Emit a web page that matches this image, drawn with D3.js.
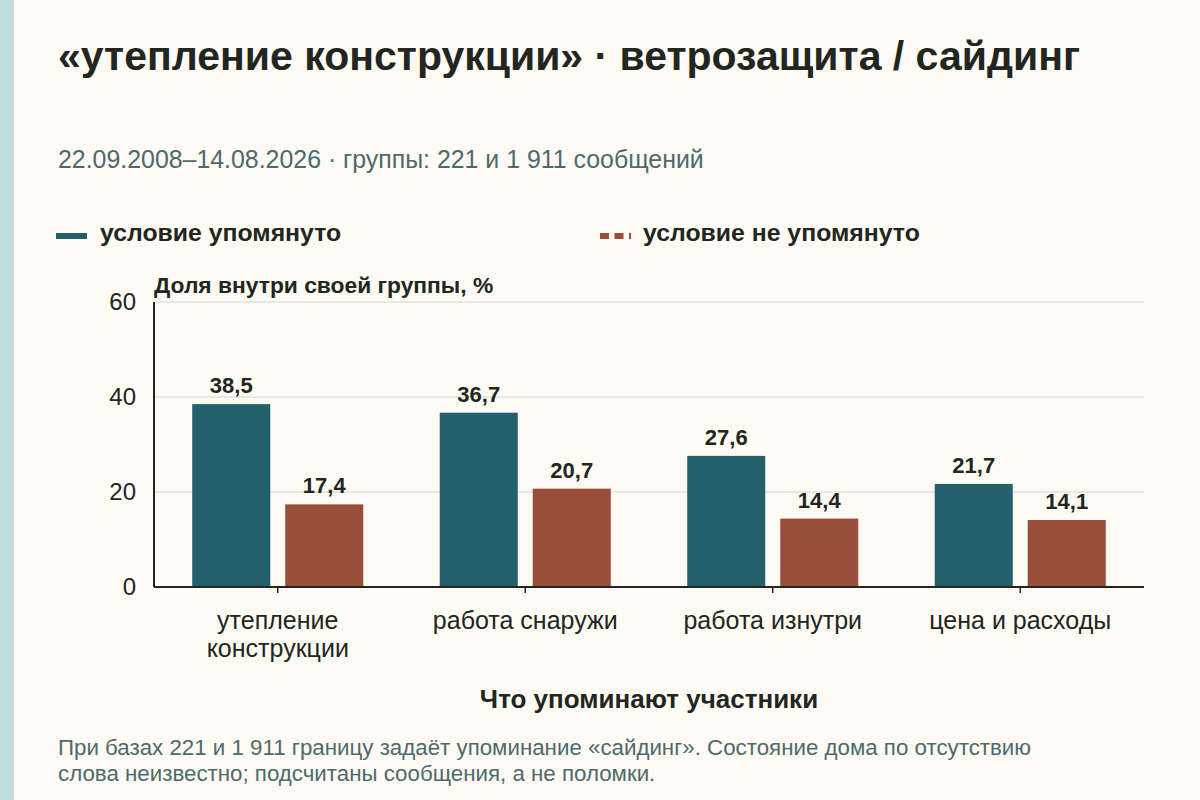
<!DOCTYPE html>
<html>
<head>
<meta charset="utf-8">
<script src="https://cdn.jsdelivr.net/npm/d3@7"></script>
<style>
  body { margin: 0; background: #fdfbf4; }
  svg { display: block; font-family: "Liberation Sans", Arial, sans-serif; }
</style>
</head>
<body>
<div id="chart"></div>
<script>
// data
const categories = [["утепление", "конструкции"], ["работа снаружи"], ["работа изнутри"], ["цена и расходы"]];
const seriesNames = ["условие упомянуто", "условие не упомянуто"];
const mentioned = [38.5, 36.7, 27.6, 21.7];
const notMentioned = [17.4, 20.7, 14.4, 14.1];
const yTicks = [0, 20, 40, 60];
const colors = ["#23606b", "#994e3c"];

const width = 1200, height = 800;
const margin = {top: 302, right: 56, bottom: 213, left: 154};

const svg = d3.select("#chart").append("svg")
    .attr("width", width)
    .attr("height", height);

svg.append("rect").attr("width", width).attr("height", height).attr("fill", "#fdfbf4");
// left accent strip
svg.append("rect").attr("x", 0).attr("y", 0).attr("width", 14).attr("height", height).attr("fill", "#c0dde0");

// title + subtitle
svg.append("text")
    .attr("x", 58).attr("y", 70)
    .attr("font-size", 41).attr("font-weight", "bold").attr("fill", "#222520")
    .text("«утепление конструкции» · ветрозащита / сайдинг");

svg.append("text")
    .attr("x", 58).attr("y", 168)
    .attr("font-size", 24.9).attr("fill", "#4d6a6b")
    .text("22.09.2008–14.08.2026 · группы: 221 и 1 911 сообщений");

// legend
const legendX = [56, 600];
seriesNames.forEach((name, i) => {
    svg.append("line")
        .attr("x1", legendX[i]).attr("x2", legendX[i] + 31)
        .attr("y1", 236).attr("y2", 236)
        .attr("stroke", colors[i]).attr("stroke-width", 6)
        .attr("stroke-dasharray", i === 1 ? "9,5.5" : null);
    svg.append("text")
        .attr("x", legendX[i] + (i === 0 ? 44 : 43)).attr("y", 241)
        .attr("font-size", 24.8).attr("font-weight", "bold").attr("fill", "#222520")
        .text(name);
});

const innerW = width - margin.left - margin.right;
const innerH = height - margin.top - margin.bottom;

const g = svg.append("g").attr("transform", `translate(${margin.left},${margin.top})`);

const keys = categories.map(c => c.join(" "));
const x0 = d3.scaleBand().domain(keys).range([0, innerW]).padding(0);
const x1 = d3.scaleBand().domain(seriesNames).range([0, x0.bandwidth()])
    .paddingInner(0.161).paddingOuter(0.411);
const y = d3.scaleLinear().domain([0, 60]).range([innerH, 0]);

// grid
g.selectAll(".grid").data(yTicks.slice(1)).enter().append("line")
    .attr("x1", 0).attr("x2", innerW)
    .attr("y1", d => y(d)).attr("y2", d => y(d))
    .attr("stroke", "#d6d3cb").attr("stroke-width", 1.2);

// y tick labels
g.selectAll(".ytick").data(yTicks).enter().append("text")
    .attr("x", -18).attr("y", d => y(d) + 8)
    .attr("text-anchor", "end")
    .attr("font-size", 24).attr("fill", "#222520")
    .text(d => d);

svg.append("text")
    .attr("x", margin.left).attr("y", 293)
    .attr("font-size", 22.8).attr("font-weight", "bold").attr("fill", "#222520")
    .text("Доля внутри своей группы, %");

// bars
const rows = keys.map((k, i) => ({key: k, values: [mentioned[i], notMentioned[i]]}));
const fmt = v => d3.format(".1f")(v).replace(".", ",");

const groups = g.selectAll(".grp").data(rows).enter().append("g")
    .attr("transform", d => `translate(${x0(d.key)},0)`);

groups.selectAll("rect")
    .data(d => d.values.map((v, i) => ({name: seriesNames[i], v, i})))
    .enter().append("rect")
    .attr("x", d => x1(d.name))
    .attr("y", d => y(d.v))
    .attr("width", x1.bandwidth())
    .attr("height", d => innerH - y(d.v))
    .attr("fill", d => colors[d.i]);

groups.selectAll(".val")
    .data(d => d.values.map((v, i) => ({name: seriesNames[i], v, i})))
    .enter().append("text")
    .attr("x", d => x1(d.name) + x1.bandwidth() / 2)
    .attr("y", d => y(d.v) - 11)
    .attr("text-anchor", "middle")
    .attr("font-size", 22).attr("font-weight", "bold").attr("fill", "#222520")
    .text(d => fmt(d.v));

// axes lines
g.append("line").attr("x1", 0).attr("x2", 0).attr("y1", 0).attr("y2", innerH)
    .attr("stroke", "#222520").attr("stroke-width", 2);
g.append("line").attr("x1", 0).attr("x2", innerW).attr("y1", innerH).attr("y2", innerH)
    .attr("stroke", "#222520").attr("stroke-width", 2);

// x ticks + labels
const xt = g.selectAll(".xt").data(categories).enter().append("g")
    .attr("transform", (d, i) => `translate(${x0(keys[i]) + x0.bandwidth() / 2},${innerH})`);
xt.append("line").attr("y1", 0).attr("y2", 6).attr("stroke", "#222520").attr("stroke-width", 1.5);
xt.append("text")
    .attr("text-anchor", "middle")
    .attr("font-size", 25).attr("fill", "#222520")
    .selectAll("tspan").data(d => d).enter().append("tspan")
    .attr("x", 0).attr("y", (d, i) => 42 + i * 28)
    .text(d => d);

svg.append("text")
    .attr("x", margin.left + innerW / 2).attr("y", 708)
    .attr("text-anchor", "middle")
    .attr("font-size", 26).attr("font-weight", "bold").attr("fill", "#222520")
    .text("Что упоминают участники");

// footnote
const notes = ["При базах 221 и 1 911 границу задаёт упоминание «сайдинг». Состояние дома по отсутствию",
    "слова неизвестно; подсчитаны сообщения, а не поломки."];
svg.append("text")
    .attr("font-size", 22.3).attr("fill", "#4d6a6b")
    .selectAll("tspan").data(notes).enter().append("tspan")
    .attr("x", 58).attr("y", (d, i) => 755 + i * 25.5)
    .text(d => d);
</script>
</body>
</html>
